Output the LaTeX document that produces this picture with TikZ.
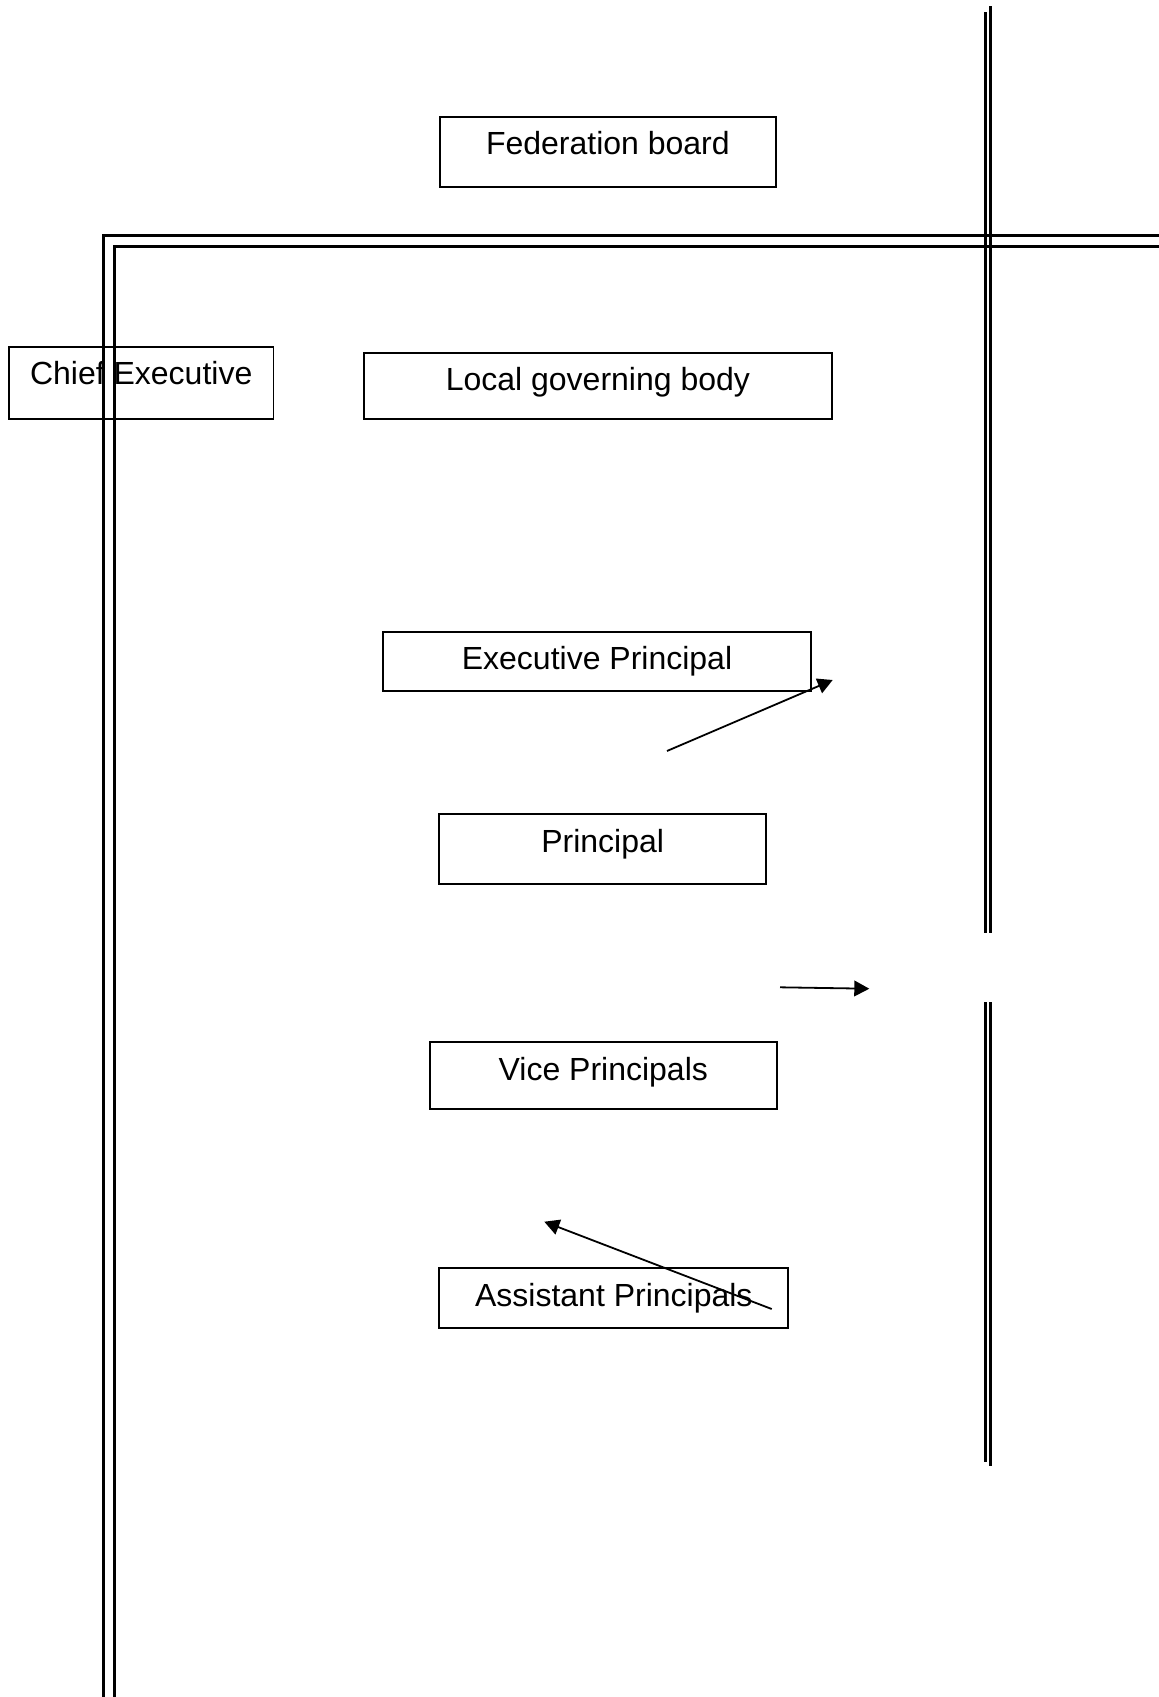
\documentclass[tikz,border=0pt]{standalone}
\usepackage{fontspec}
\setmainfont{Liberation Sans}
\usetikzlibrary{arrows.meta}

\begin{document}
\begin{tikzpicture}[x=0.5pt,y=-0.5pt]
        \tikzstyle{orgbox}=[draw,line width=0.9pt,inner sep=0pt,anchor=base,text height=19pt,font=\fontsize{16pt}{19pt}\selectfont]
        \tikzstyle{rule}=[line width=1.3pt]
        \tikzstyle{pointer}=[line width=0.9pt,-{Triangle[length=7.5pt,width=7.8pt]}]
        \useasboundingbox (0,0) rectangle (1159,1697);
        \node[orgbox,minimum width=168.1pt,text depth=16.3pt] (fed) at (607.9,154.7) {Federation board};
        \node[orgbox,minimum width=132.3pt,text depth=17.2pt] (chief) at (141.2,384.7) {Chief Executive};
        \node[orgbox,minimum width=234.3pt,text depth=14.3pt] (local) at (597.9,390.7) {Local governing body};
        \node[orgbox,minimum width=213.7pt,text depth=10.8pt] (exec) at (597,669.7) {Executive Principal};
        \node[orgbox,minimum width=163.4pt,text depth=15.9pt] (principal) at (602.7,852.3) {Principal};
        \node[orgbox,minimum width=173.4pt,text depth=14.2pt] (vice) at (603.3,1080.3) {Vice Principals};
        \node[orgbox,minimum width=174.5pt,text depth=11pt] (assistant) at (613.8,1306.3) {Assistant Principals};
        \draw[rule] (103.5,1697) -- (103.5,235.7) -- (1159,235.7);
        \draw[rule] (114.5,1697) -- (114.5,246.7) -- (1159,246.7);
        \draw[rule] (985.5,12) -- (985.5,933) (985.5,1002) -- (985.5,1462);
        \draw[rule] (990.5,6) -- (990.5,933) (990.5,1002) -- (990.5,1466);
        \coordinate (up from) at (667,751);
        \coordinate (up to) at (832.7,680);
        \coordinate (side from) at (780,987.3);
        \coordinate (side to) at (869.3,988.7);
        \coordinate (back from) at (771.7,1309);
        \coordinate (back to) at (544.3,1221.7);
        \draw[pointer] (up from) -- (up to);
        \draw[pointer] (side from) -- (side to);
        \draw[pointer] (back from) -- (back to);
\end{tikzpicture}
\end{document}
